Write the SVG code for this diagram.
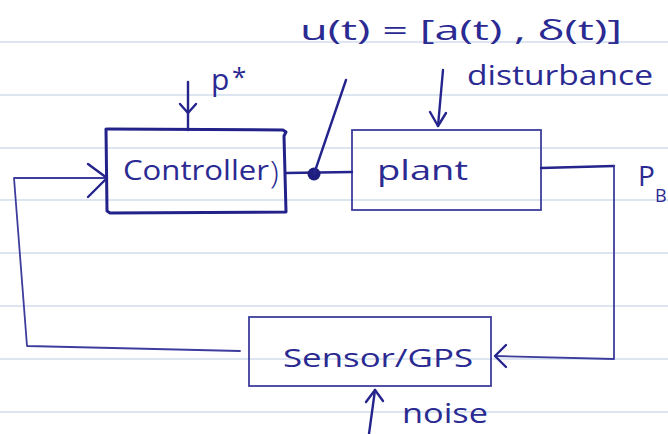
<svg xmlns="http://www.w3.org/2000/svg" width="668" height="434" viewBox="0 0 668 434">
<style>
.rule{stroke:#dde6f0;stroke-width:2}
.thin{fill:none;stroke:#3d3d9e;stroke-width:1.8;stroke-linejoin:round;stroke-linecap:round}
.ink{fill:none;stroke:#24248c;stroke-width:2.4;stroke-linejoin:round;stroke-linecap:round}
.thick{fill:none;stroke:#22228a;stroke-width:3;stroke-linejoin:round;stroke-linecap:round}
.box{fill:none;stroke:#3d3d9e;stroke-width:1.8}
text{font-family:"Open Sans","DejaVu Sans",sans-serif;fill:#2a2a92}
</style>
<rect width="668" height="434" fill="#ffffff"/>
<g id="paper">
<line class="rule" x1="0" y1="42" x2="668" y2="42"/>
<line class="rule" x1="0" y1="95" x2="668" y2="95"/>
<line class="rule" x1="0" y1="148" x2="668" y2="148"/>
<line class="rule" x1="0" y1="200" x2="668" y2="200"/>
<line class="rule" x1="0" y1="253" x2="668" y2="253"/>
<line class="rule" x1="0" y1="306" x2="668" y2="306"/>
<line class="rule" x1="0" y1="359" x2="668" y2="359"/>
<line class="rule" x1="0" y1="412" x2="668" y2="412"/>
</g>
<g id="controller">
<path class="thick" d="M106 129 L107 211 L110 213 L286 212 L284 136 L286 132 L283 130 L108 129"/>
<text x="123" y="180" font-size="27" textLength="146" lengthAdjust="spacingAndGlyphs">Controller</text>
<text x="270" y="183" font-size="32" font-weight="300">)</text>
</g>
<g id="plant">
<rect class="box" x="352" y="130" width="189" height="80"/>
<text x="377" y="180" font-size="28" textLength="91" lengthAdjust="spacingAndGlyphs">plant</text>
</g>
<g id="sensor">
<rect class="box" x="249" y="317" width="242" height="69"/>
<text x="283" y="367" font-size="26" textLength="190" lengthAdjust="spacingAndGlyphs">Sensor/GPS</text>
</g>
<g id="connectors">
<path class="thin" d="M240 351 L27 346 L14 178 L107 178"/>
<path class="ink" d="M88 164 L107 178 L88 197"/>
<path class="ink" d="M286 173 L352 172"/>
<circle cx="314" cy="174" r="6.5" fill="#1e1e7e"/>
<path class="ink" d="M314 174 L346 80"/>
<path class="ink" d="M188 82 L188 130"/>
<path class="ink" d="M180 104 L188 113 L196 104"/>
<path class="ink" d="M443 70 L438 126"/>
<path class="ink" d="M430 112 L438 126 L446 113"/>
<path class="ink" d="M541 168 L614 166"/>
<path class="thin" d="M614 166 L614 359 L495 356"/>
<path class="ink" d="M506 345 L495 356 L506 367"/>
<path class="ink" d="M369 434 L375 390"/>
<path class="ink" d="M366 402 L375 390 L383 401"/>
</g>
<g id="labels">
<text x="300" y="40" font-size="28" textLength="322" lengthAdjust="spacingAndGlyphs">u(t) = [a(t) , δ(t)]</text>
<text x="467" y="85" font-size="27" textLength="186" lengthAdjust="spacingAndGlyphs">disturbance</text>
<text x="211" y="90" font-size="30">p</text>
<text x="232" y="86" font-size="26">*</text>
<text x="638" y="186" font-size="28">P</text>
<text x="655" y="202" font-size="18">B</text>
<text x="402" y="423" font-size="28" textLength="86" lengthAdjust="spacingAndGlyphs">noise</text>
</g>
</svg>
